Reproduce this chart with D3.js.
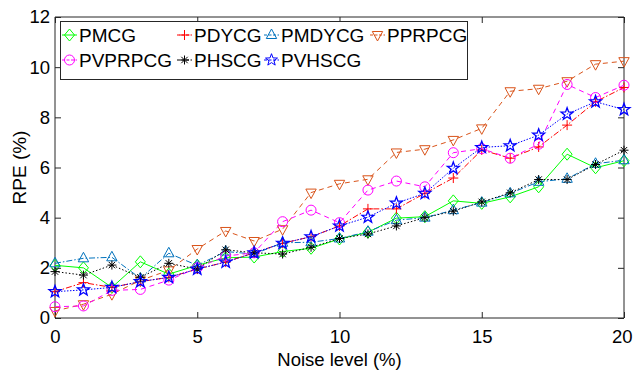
<!DOCTYPE html>
<html><head><meta charset="utf-8">
<script src="https://cdn.jsdelivr.net/npm/d3@7"></script>
<style>body{margin:0;background:#fff}svg{display:block}text{font-family:"Liberation Sans",Arial,Helvetica,sans-serif;fill:#000}</style>
</head><body><svg id="c" width="633" height="372"></svg>
<script>
const noise = [0,1,2,3,4,5,6,7,8,9,10,11,12,13,14,15,16,17,18,19,20];
const xTicks = [0,5,10,15,20];
const yTicks = [0,2,4,6,8,10,12];
const seriesNames = ["PMCG","PDYCG","PMDYCG","PPRPCG","PVPRPCG","PHSCG","PVHSCG"];
const PMCG    = [2.10,2.00,1.22,2.24,1.75,2.10,2.40,2.43,2.65,2.78,3.15,3.42,3.98,4.04,4.67,4.57,4.83,5.23,6.53,5.99,6.27];
const PDYCG   = [1.05,1.41,1.22,1.45,1.62,1.95,2.23,2.60,2.98,3.24,3.67,4.35,4.35,4.97,5.58,6.70,6.37,6.82,7.69,8.62,9.19];
const PMDYCG  = [2.18,2.38,2.42,1.58,2.58,2.10,2.65,2.55,3.00,3.02,3.17,3.44,3.90,4.00,4.30,4.60,4.97,5.43,5.55,6.15,6.29];
const PPRPCG  = [0.28,0.55,0.95,1.50,1.90,2.75,3.47,3.07,3.54,5.00,5.35,5.53,6.60,6.73,7.10,7.56,9.04,9.14,9.44,10.12,10.24];
const PVPRPCG = [0.45,0.48,1.10,1.14,1.51,2.00,2.47,2.60,3.84,4.30,3.80,5.10,5.46,5.23,6.59,6.75,6.37,6.93,9.31,8.79,9.28];
const PHSCG   = [1.85,1.71,2.11,1.62,2.18,1.95,2.72,2.60,2.55,2.82,3.17,3.35,3.67,4.00,4.26,4.63,4.99,5.52,5.52,6.12,6.69];
const PVHSCG  = [1.05,1.12,1.22,1.45,1.62,1.95,2.23,2.60,2.98,3.24,3.67,4.02,4.58,4.97,5.97,6.80,6.87,7.29,8.13,8.62,8.31];

const styles = {
  PMCG:   {color:"#00ff00", dash:null,        marker:"diamond"},
  PDYCG:  {color:"#ff0000", dash:"6,2,1.5,2", marker:"plus"},
  PMDYCG: {color:"#0072BD", dash:"6,2,1.5,2", marker:"triangle"},
  PPRPCG: {color:"#D95319", dash:"5,4",       marker:"triangleDown"},
  PVPRPCG:{color:"#ff00ff", dash:"5,4",       marker:"circle"},
  PHSCG:  {color:"#000000", dash:"1.5,2",     marker:"asterisk"},
  PVHSCG: {color:"#0000ff", dash:"1.5,1.5",   marker:"star"}
};
const values = {PMCG,PDYCG,PMDYCG,PPRPCG,PVPRPCG,PHSCG,PVHSCG};

const svg = d3.select("#c");
const L=55,R=624,T=17,B=318;
const x = d3.scaleLinear().domain([0,20]).range([L,R]);
const y = d3.scaleLinear().domain([0,12]).range([B,T]);
const axCol = "#262626";
const fs = 18.5;

const gx = svg.append("g").attr("transform",`translate(0,${B})`)
  .call(d3.axisBottom(x).tickValues(xTicks).tickSize(-6).tickPadding(12));
const gx2 = svg.append("g").attr("transform",`translate(0,${T})`)
  .call(d3.axisTop(x).tickValues(xTicks).tickSize(-6).tickFormat(""));
const gy = svg.append("g").attr("transform",`translate(${L},0)`)
  .call(d3.axisLeft(y).tickValues(yTicks).tickSize(-6).tickPadding(5));
const gy2 = svg.append("g").attr("transform",`translate(${R},0)`)
  .call(d3.axisRight(y).tickValues(yTicks).tickSize(-6).tickFormat(""));
[gx,gx2,gy,gy2].forEach(g=>{
  g.selectAll("path").attr("stroke",axCol).attr("stroke-width",1);
  g.selectAll("line").attr("stroke",axCol).attr("stroke-width",1);
  g.selectAll("text").attr("font-size",fs).attr("font-family","Liberation Sans, Arial, sans-serif").attr("fill","#000");
});
gx.selectAll("path").attr("d",`M${L},0H${R}`);
gx2.selectAll("path").attr("d",`M${L},0H${R}`);
gy.selectAll("path").attr("d",`M0,${T}V${B}`);
gy2.selectAll("path").attr("d",`M0,${T}V${B}`);
// keep the last x tick label inside the window
gx.selectAll(".tick text").filter(d=>d===20).attr("text-anchor","end").attr("x",8);

svg.append("text").attr("x",(L+R)/2).attr("y",366).attr("text-anchor","middle")
  .attr("font-size",fs).text("Noise level (%)");
svg.append("text").attr("transform",`translate(26,${(T+B)/2}) rotate(-90)`).attr("text-anchor","middle")
  .attr("font-size",19).text("RPE (%)");

function markerPath(type){
  switch(type){
    case "diamond": return "M0,-6L5,0L0,6L-5,0Z";
    case "plus": return "M-5,0H5M0,-5V5";
    case "triangle": return "M0,-6L5.2,3.5L-5.2,3.5Z";
    case "triangleDown": return "M0,6L5.2,-3.5L-5.2,-3.5Z";
    case "circle": return "M5,0A5,5 0 1,1 -5,0A5,5 0 1,1 5,0Z";
    case "asterisk": return "M-4.5,0H4.5M0,-4.5V4.5M-3.2,-3.2L3.2,3.2M-3.2,3.2L3.2,-3.2";
    case "star": {
      let p=[];
      for(let i=0;i<10;i++){const r=i%2?2.6:6.3;const a=-Math.PI/2+i*Math.PI/5;p.push([r*Math.cos(a),r*Math.sin(a)]);}
      return "M"+p.map(d=>d[0].toFixed(2)+","+d[1].toFixed(2)).join("L")+"Z";
    }
  }
}

const line = d3.line().x((d,i)=>x(noise[i])).y(d=>y(d));
seriesNames.forEach(name=>{
  const s = styles[name];
  const g = svg.append("g");
  g.append("path").datum(values[name]).attr("d",line).attr("fill","none")
    .attr("stroke",s.color).attr("stroke-width",1)
    .attr("stroke-dasharray",s.dash);
  g.selectAll("path.m").data(values[name]).join("path").attr("class","m")
    .attr("transform",(d,i)=>`translate(${x(noise[i])},${y(d)})`)
    .attr("d",markerPath(s.marker)).attr("fill","none")
    .attr("stroke",s.color).attr("stroke-width",s.marker==="star"?1.3:1);
});

const lg = svg.append("g");
lg.append("rect").attr("x",60.5).attr("y",21.5).attr("width",407).attr("height",58)
  .attr("fill","#fff").attr("stroke",axCol).attr("stroke-width",1);
const cols=[62,177,264,370];
const rows=[35,60];
seriesNames.forEach((name,i)=>{
  const s=styles[name];
  const cx=cols[i%4], cy=rows[Math.floor(i/4)];
  lg.append("line").attr("x1",cx).attr("x2",cx+15).attr("y1",cy).attr("y2",cy)
    .attr("stroke",s.color).attr("stroke-width",1).attr("stroke-dasharray",s.dash?"3,1.5":null);
  lg.append("path").attr("transform",`translate(${cx+7.5},${cy})`).attr("d",markerPath(s.marker))
    .attr("fill","none").attr("stroke",s.color).attr("stroke-width",1);
  lg.append("text").attr("x",cx+17).attr("y",cy+7).attr("font-size",19).text(name);
});
</script></body></html>
